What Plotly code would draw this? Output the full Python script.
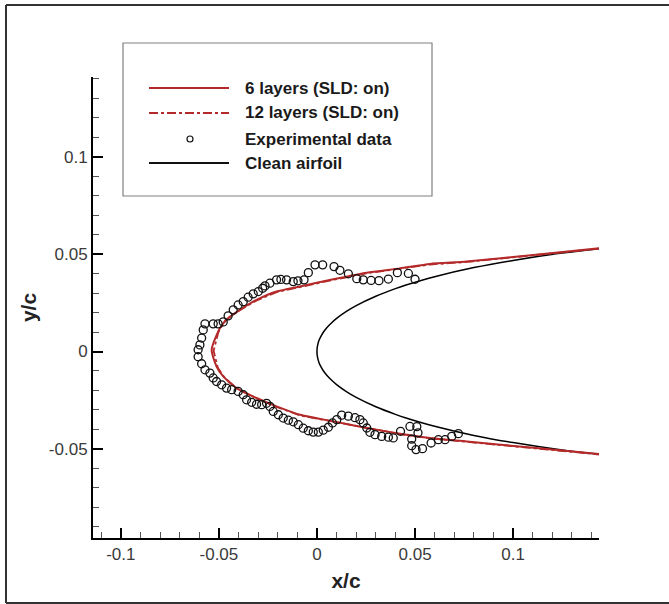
import plotly.graph_objects as go

# ---------------- data ----------------
# Clean airfoil (upper surface from trailing side to leading edge, then lower surface)
clean_x = [0.15, 0.125, 0.1, 0.08, 0.06, 0.045, 0.04, 0.03, 0.02, 0.015, 0.01, 0.0075, 0.005, 0.0035,
           0.002, 0.001, 0.0005, 0.0001, 0.0,
           0.0001, 0.0005, 0.001, 0.002, 0.0035, 0.005, 0.0075, 0.01, 0.015, 0.02, 0.03, 0.04,
           0.045, 0.06, 0.08, 0.1, 0.125, 0.15]
clean_y = [0.0535, 0.0506, 0.0468, 0.0431, 0.0384, 0.0340, 0.0323, 0.0284, 0.0236, 0.0206, 0.0170,
           0.0148, 0.0122, 0.0103, 0.0078, 0.0056, 0.0039, 0.0018, 0.0,
           -0.0018, -0.0039, -0.0056, -0.0078, -0.0103, -0.0122, -0.0148, -0.0170, -0.0206, -0.0236,
           -0.0284, -0.0323, -0.0340, -0.0384, -0.0431, -0.0468, -0.0506, -0.0535]

# Ice shape, 6 layers (SLD on)
l6_x = [0.1438, 0.1104, 0.0764, 0.0577, 0.0423, 0.0254, 0.0083, -0.0087, -0.0206, -0.0308, -0.0393,
        -0.0453, -0.0495, -0.0537,
        -0.0512, -0.0478, -0.0410, -0.0308, -0.0206, -0.0087, 0.0083, 0.0254, 0.0423, 0.0577, 0.0764,
        0.1104, 0.1438]
l6_y = [0.0530, 0.0496, 0.0462, 0.0450, 0.0427, 0.0405, 0.0371, 0.0334, 0.0308, 0.0265, 0.0214,
        0.0171, 0.0120, 0.0009,
        -0.0077, -0.0128, -0.0188, -0.0239, -0.0282, -0.0325, -0.0359, -0.0393, -0.0422, -0.0444,
        -0.0462, -0.0495, -0.0527]

# Ice shape, 12 layers (SLD on)
l12_x = [0.1438, 0.1104, 0.0764, 0.0577, 0.0423, 0.0254, 0.0083, -0.0087, -0.0206, -0.0310, -0.0400,
         -0.0468, -0.0503, -0.0527,
         -0.0505, -0.0470, -0.0405, -0.0306, -0.0206, -0.0087, 0.0083, 0.0254, 0.0423, 0.0577, 0.0764,
         0.1104, 0.1438]
l12_y = [0.0528, 0.0494, 0.0460, 0.0447, 0.0425, 0.0402, 0.0368, 0.0331, 0.0305, 0.0261, 0.0208,
         0.0160, 0.0098, 0.0004,
         -0.0085, -0.0135, -0.0192, -0.0242, -0.0285, -0.0328, -0.0361, -0.0395, -0.0424, -0.0446,
         -0.0464, -0.0497, -0.0529]

# Experimental data
exp_x = [0.0500, 0.0466, 0.0410, 0.0364, 0.0316, 0.0276, 0.0236, 0.0203, 0.0160, 0.0117, 0.0087,
         0.0029, -0.0010, -0.0044, -0.0066, -0.0097, -0.0121, -0.0155, -0.0184, -0.0206, -0.0240,
         -0.0265, -0.0277, -0.0299, -0.0325, -0.0351, -0.0376, -0.0402, -0.0427, -0.0453, -0.0478,
         -0.0504, -0.0529, -0.0571, -0.0580, -0.0588, -0.0597, -0.0606,
         -0.0606, -0.0588, -0.0571, -0.0546, -0.0529, -0.0512, -0.0486, -0.0461, -0.0435, -0.0402,
         -0.0376, -0.0359, -0.0333, -0.0308, -0.0282, -0.0257, -0.0240, -0.0223, -0.0197, -0.0172,
         -0.0146, -0.0121, -0.0095, -0.0070, -0.0044, -0.0019, 0.0007, 0.0032, 0.0058, 0.0079,
         0.0101, 0.0126, 0.0160, 0.0194, 0.0219, 0.0236, 0.0254, 0.0270, 0.0296, 0.0330, 0.0364,
         0.0389, 0.0426, 0.0474, 0.0509, 0.0515, 0.0483, 0.0483, 0.0505, 0.0538, 0.0582, 0.0619,
         0.0653, 0.0687, 0.0721]
exp_y = [0.0371, 0.0401, 0.0405, 0.0372, 0.0364, 0.0365, 0.0368, 0.0374, 0.0399, 0.0417, 0.0436,
         0.0445, 0.0445, 0.0405, 0.0368, 0.0363, 0.0359, 0.0368, 0.0370, 0.0368, 0.0351,
         0.0337, 0.0325, 0.0308, 0.0296, 0.0279, 0.0256, 0.0239, 0.0214, 0.0183, 0.0152,
         0.0142, 0.0142, 0.0142, 0.0111, 0.0069, 0.0034, 0.0009,
         -0.0027, -0.0063, -0.0094, -0.0111, -0.0136, -0.0154, -0.0171, -0.0188, -0.0196, -0.0205,
         -0.0222, -0.0248, -0.0261, -0.0271, -0.0273, -0.0266, -0.0282, -0.0308, -0.0325, -0.0342,
         -0.0353, -0.0361, -0.0376, -0.0394, -0.0407, -0.0414, -0.0414, -0.0404, -0.0389, -0.0367,
         -0.0350, -0.0327, -0.0332, -0.0340, -0.0350, -0.0367, -0.0393, -0.0415, -0.0427, -0.0436,
         -0.0440, -0.0444, -0.0410, -0.0385, -0.0386, -0.0418, -0.0450, -0.0484, -0.0504, -0.0499,
         -0.0470, -0.0453, -0.0453, -0.0436, -0.0422]

tick_vals = [-0.1, -0.05, 0, 0.05, 0.1]
tick_text = ["-0.1", "-0.05", "0", "0.05", "0.1"]
legend_names = ["6 layers (SLD: on)", "12 layers (SLD: on)", "Experimental data", "Clean airfoil"]

# ---------------- layout geometry ----------------
W, H = 669, 604
ML, MR, MT, MB = 93, 70, 77, 66
PW, PH = W - ML - MR, H - MT - MB
RED = "#b42a2a"
FONT = "Liberation Sans, Arial, sans-serif"


def px(xp):
    return (xp - ML) / PW


def py(yp):
    return (H - MB - yp) / PH


fig = go.Figure()
fig.add_trace(go.Scatter(x=clean_x, y=clean_y, mode="lines", name=legend_names[3],
                         line=dict(color="black", width=1.5, shape="spline"), showlegend=False))
fig.add_trace(go.Scatter(x=l12_x, y=l12_y, mode="lines", name=legend_names[1],
                         line=dict(color=RED, width=1.8, dash="dashdot"), showlegend=False))
fig.add_trace(go.Scatter(x=l6_x, y=l6_y, mode="lines", name=legend_names[0],
                         line=dict(color=RED, width=2, shape="spline", smoothing=0.6), showlegend=False))
fig.add_trace(go.Scatter(x=exp_x, y=exp_y, mode="markers", name=legend_names[2],
                         marker=dict(symbol="circle-open", size=8, color="#111",
                                     line=dict(width=1.3, color="#111")), showlegend=False))

axis_common = dict(
    showgrid=False, zeroline=False, showline=True, linecolor="black", linewidth=2,
    ticks="inside", ticklen=10, tickwidth=2, tickcolor="black",
    tickvals=tick_vals, ticktext=tick_text,
    tickfont=dict(family=FONT, size=17, color="#3a3a3a"),
    minor=dict(ticks="inside", ticklen=6, tickwidth=1, tickcolor="#555", dtick=0.01, tick0=0),
    mirror=False,
)

fig.update_layout(
    width=W, height=H,
    margin=dict(l=ML, r=MR, t=MT, b=MB),
    paper_bgcolor="white", plot_bgcolor="white",
    showlegend=False,
    xaxis=dict(range=[-0.1142, 0.1438], title=dict(text="<b>x/c</b>", standoff=10,
               font=dict(family=FONT, size=21, color="#222")), **axis_common),
    yaxis=dict(range=[-0.0958, 0.141], title=dict(text="<b>y/c</b>", standoff=6,
               font=dict(family=FONT, size=21, color="#222")), **axis_common),
)

shapes = []
# outer frame: left, top and bottom edges (right edge lies beyond the canvas)
frame = dict(xref="paper", yref="paper", type="line", line=dict(color="#333", width=2), layer="below")
shapes.append(dict(frame, x0=px(6), x1=px(6), y0=py(5), y1=py(603)))
shapes.append(dict(frame, x0=px(6), x1=px(669), y0=py(5), y1=py(5)))
shapes.append(dict(frame, x0=px(6), x1=px(669), y0=py(603), y1=py(603)))
# legend box
shapes.append(dict(type="rect", xref="paper", yref="paper", x0=px(123), x1=px(432), y0=py(43), y1=py(196),
                   line=dict(color="#808080", width=1.2), fillcolor="white", layer="above"))
rows = [88, 113, 139, 163]
shapes.append(dict(type="line", xref="paper", yref="paper", x0=px(149), x1=px(229), y0=py(rows[0]), y1=py(rows[0]),
                   line=dict(color=RED, width=2)))
shapes.append(dict(type="line", xref="paper", yref="paper", x0=px(149), x1=px(229), y0=py(rows[1]), y1=py(rows[1]),
                   line=dict(color=RED, width=2, dash="dashdot")))
shapes.append(dict(type="circle", xref="paper", yref="paper", x0=px(187), x1=px(193), y0=py(rows[2] - 3),
                   y1=py(rows[2] + 3), line=dict(color="#111", width=1.2)))
shapes.append(dict(type="line", xref="paper", yref="paper", x0=px(149), x1=px(229), y0=py(rows[3]), y1=py(rows[3]),
                   line=dict(color="#111", width=2)))

annotations = []
for name, r in zip(legend_names, rows):
    annotations.append(dict(text="<b>%s</b>" % name, xref="paper", yref="paper", x=px(243), y=py(r),
                            xanchor="left", yanchor="middle", showarrow=False,
                            font=dict(family=FONT, size=17, color="#1a1a1a")))

fig.update_layout(shapes=shapes, annotations=annotations)
fig.write_html("out.html")
